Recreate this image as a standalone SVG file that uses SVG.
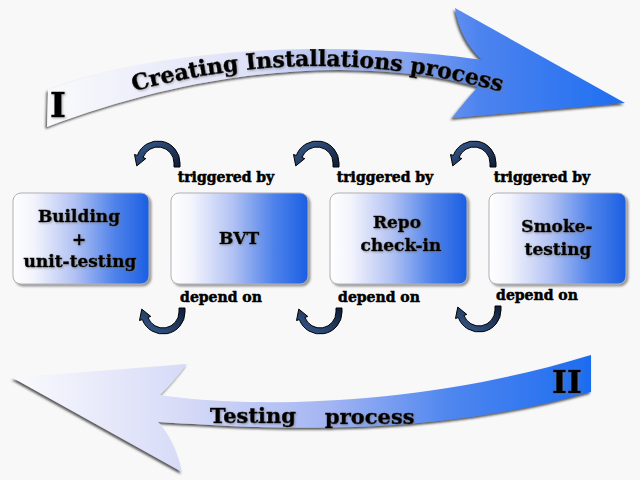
<svg xmlns="http://www.w3.org/2000/svg" xmlns:xlink="http://www.w3.org/1999/xlink" width="640" height="480" viewBox="0 0 640 480">
<defs>
<style>
.t{font-family:"DejaVu Serif","Liberation Serif",serif;font-weight:bold;fill:#000;stroke:#000;stroke-width:0.5;}
.box{stroke:#b0b0b8;stroke-width:1;fill:url(#boxg);filter:url(#sh);}
.lbl{font-size:14px;text-anchor:middle;}
.btx{font-size:17px;text-anchor:middle;filter:url(#tsh);}
.big{filter:url(#tsh);}
.cur{fill:url(#curg);stroke:#000;stroke-width:1;stroke-linejoin:round;}
</style>
<linearGradient id="boxg" x1="0" y1="0" x2="1" y2="0">
<stop offset="0" stop-color="#ffffff"/>
<stop offset="0.15" stop-color="#f3f4fc"/>
<stop offset="0.45" stop-color="#b2c2f3"/>
<stop offset="0.75" stop-color="#4e82ea"/>
<stop offset="1" stop-color="#1b5fe3"/>
</linearGradient>
<linearGradient id="topg" gradientUnits="userSpaceOnUse" x1="45" y1="0" x2="625" y2="0">
<stop offset="0" stop-color="#fafafc"/>
<stop offset="0.35" stop-color="#dfe2f8"/>
<stop offset="0.6" stop-color="#90a9f1"/>
<stop offset="0.75" stop-color="#4d83ee"/>
<stop offset="1" stop-color="#1e6ef2"/>
</linearGradient>
<linearGradient id="botg" gradientUnits="userSpaceOnUse" x1="13" y1="0" x2="591" y2="0">
<stop offset="0" stop-color="#fafafd"/>
<stop offset="0.3" stop-color="#d6daf7"/>
<stop offset="0.55" stop-color="#a2b4f3"/>
<stop offset="0.75" stop-color="#5087ef"/>
<stop offset="1" stop-color="#1d6cf0"/>
</linearGradient>
<linearGradient id="curg" x1="0" y1="0" x2="1" y2="1">
<stop offset="0" stop-color="#3a5f94"/>
<stop offset="1" stop-color="#0e1c36"/>
</linearGradient>
<filter id="sh" x="-10%" y="-10%" width="125%" height="130%">
<feDropShadow dx="2" dy="2" stdDeviation="1.2" flood-color="#555" flood-opacity="0.6"/>
</filter>
<filter id="ash" x="-10%" y="-10%" width="125%" height="130%">
<feDropShadow dx="-1.5" dy="2" stdDeviation="1" flood-color="#333" flood-opacity="0.8"/>
</filter>
<filter id="tsh" x="-10%" y="-20%" width="125%" height="150%">
<feDropShadow dx="1" dy="1" stdDeviation="0.8" flood-color="#777" flood-opacity="0.6"/>
</filter>
<path id="curl" d="M 16,4 L 16,0 A 16 16 0 0 0 -15.03,-5.47 L -12.2,-4.45 L -21.25,2.9 L -23.5,-8.55 L -20.67,-7.52 A 22 22 0 0 1 22,0 L 22,4 Z"/>
<path id="toptp" d="M 128,93 Q 320,38 512,95"/>
</defs>
<rect x="0" y="0" width="640" height="480" fill="#f8f8f8"/>

<g id="process-I">
<path d="M 48,90 C 120,62 230,48 330,49 C 400,50 450,55 482,60 Q 460,40 455,8 L 625,103 L 452,118 Q 466,100 478,87 C 440,76 400,71 340,70 C 250,70 150,88 47,127 Z" fill="url(#topg)" filter="url(#ash)"/>
<text class="t big" x="58" y="117" font-size="34" text-anchor="middle">I</text>
<text class="t big" font-size="22"><textPath xlink:href="#toptp" href="#toptp" startOffset="6">Creating Installations process</textPath></text>
</g>

<g id="process-II">
<path d="M 13,378 L 187,364 Q 172,384 160,395 C 240,408 420,408 591,355 L 591,392 C 420,440 260,428 158,422 Q 175,440 182,472 Z" fill="url(#botg)" filter="url(#ash)"/>
<text class="t big" x="567" y="393" font-size="32" text-anchor="middle">II</text>
<text class="t big" font-size="21"><tspan x="210" y="423">Testing</tspan><tspan x="325" y="424">process</tspan></text>
</g>

<g id="node-building">
<rect class="box" x="13" y="193" width="136" height="91" rx="8"/>
<text class="t btx" x="79" y="222">Building</text>
<text class="t btx" x="79" y="245">+</text>
<text class="t btx" x="80" y="267">unit-testing</text>
</g>
<g id="node-bvt">
<rect class="box" x="171" y="193" width="137" height="91" rx="8"/>
<text class="t btx" x="239" y="244">BVT</text>
</g>
<g id="node-repo">
<rect class="box" x="330" y="193" width="137" height="91" rx="8"/>
<text class="t btx" x="397" y="228">Repo</text>
<text class="t btx" x="401" y="251">check-in</text>
</g>
<g id="node-smoke">
<rect class="box" x="489" y="193" width="137" height="91" rx="8"/>
<text class="t btx" x="557" y="232">Smoke-</text>
<text class="t btx" x="558" y="255">testing</text>
</g>

<g id="connectors">
<use href="#curl" xlink:href="#curl" class="cur" transform="translate(158,163)"/>
<use href="#curl" xlink:href="#curl" class="cur" transform="translate(317,163)"/>
<use href="#curl" xlink:href="#curl" class="cur" transform="translate(474,163)"/>
<use href="#curl" xlink:href="#curl" class="cur" transform="translate(163,312) scale(1,-1)"/>
<use href="#curl" xlink:href="#curl" class="cur" transform="translate(320,312) scale(1,-1)"/>
<use href="#curl" xlink:href="#curl" class="cur" transform="translate(479,310) scale(1,-1)"/>
<text class="t lbl" x="226" y="182">triggered by</text>
<text class="t lbl" x="385" y="182">triggered by</text>
<text class="t lbl" x="542" y="182">triggered by</text>
<text class="t lbl" x="221" y="302">depend on</text>
<text class="t lbl" x="379" y="302">depend on</text>
<text class="t lbl" x="537" y="300">depend on</text>
</g>
</svg>
